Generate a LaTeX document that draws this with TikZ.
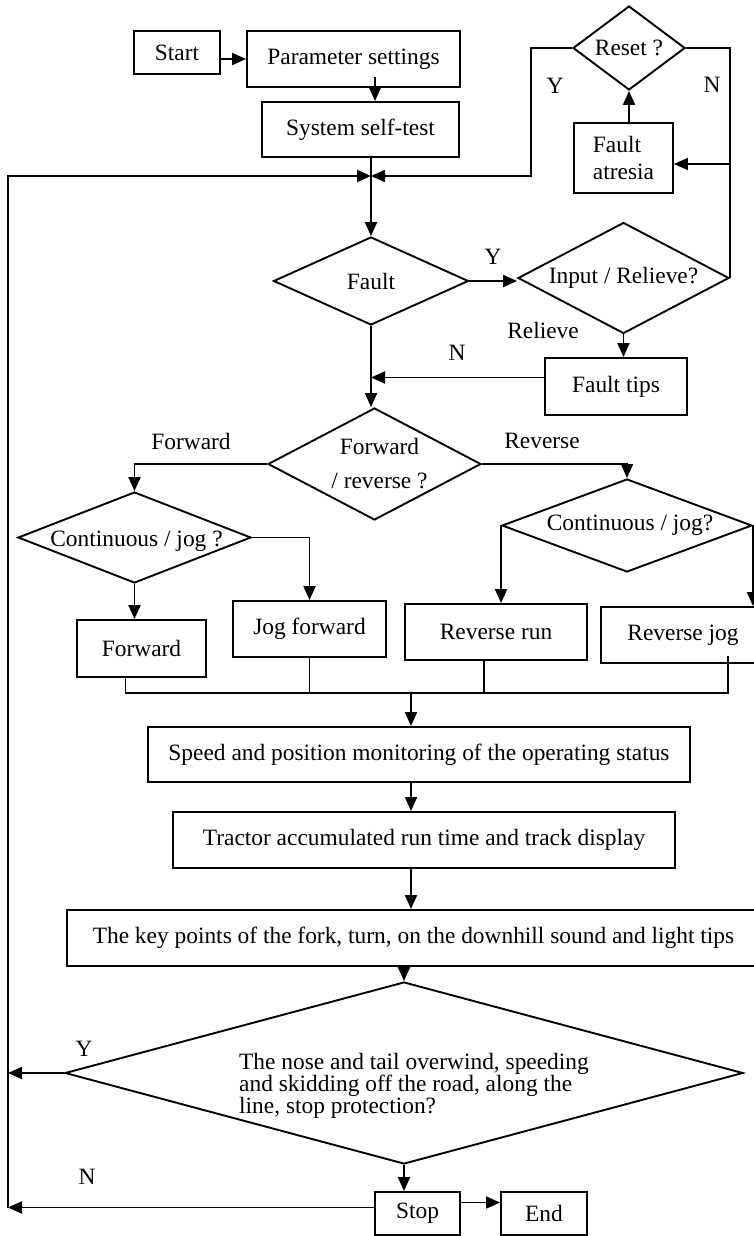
\documentclass[tikz,border=0pt]{standalone}
\usepackage{fontspec}
\setmainfont{Liberation Serif}
\usetikzlibrary{shapes.geometric,arrows.meta}

\begin{document}
\begin{tikzpicture}[x=1pt,y=-1pt,line width=1.9pt,
        font=\fontsize{23.4}{27}\selectfont,
        box/.style={draw,rectangle,inner sep=0pt},
        dia/.style={draw,diamond,inner sep=0pt},
        arr/.style={-{Triangle[length=14pt,width=12pt]}},
        lbl/.style={inner sep=0pt}]

        \useasboundingbox (0,0) rectangle (754,1236);
        \clip (0,0) rectangle (754,1236);

        %blocchi in alto
        \node[box,minimum width=86pt,minimum height=43pt] (start) at (177,52.5) {Start};
        \node[box,minimum width=213pt,minimum height=56pt] (param) at (353.5,59) {Parameter settings};
        \node[box,minimum width=197pt,minimum height=55pt] (selftest) at (360.5,129.5) {System self-test};
        \node[dia,minimum width=112pt,minimum height=84pt,label=center:{Reset ?}] (reset) at (629,48) {};
        \node[box,minimum width=99pt,minimum height=70pt,align=left] (atresia) at (623.5,158) {Fault\\atresia};

        %controllo guasti
        \node[dia,minimum width=195pt,minimum height=88pt,label=center:Fault] (fault) at (371,281) {};
        \node[dia,minimum width=211pt,minimum height=111pt,label=center:{Input / Relieve?}] (input) at (623.5,278) {};
        \node[box,minimum width=142pt,minimum height=57pt] (tips) at (616,386.5) {Fault tips};

        %avanti / indietro
        \node[dia,minimum width=213pt,minimum height=112pt,label={[align=center,xshift=5pt]center:{Forward\\[7pt]/ reverse ?}}] (fwdrev) at (374.5,464) {};
        \node[dia,minimum width=233pt,minimum height=91pt,label={[xshift=2pt,yshift=-4pt]center:{Continuous / jog ?}}] (contL) at (134.5,537.5) {};
        \node[dia,minimum width=250pt,minimum height=93pt,label={[xshift=3pt]center:{Continuous / jog?}}] (contR) at (627,525.5) {};
        \node[box,minimum width=129pt,minimum height=57pt] (fwd) at (141.5,648.5) {Forward};
        \node[box,minimum width=153pt,minimum height=56pt] (jogf) at (309.5,629) {Jog forward};
        \node[box,minimum width=182pt,minimum height=56pt] (revrun) at (496,632) {Reverse run};
        \node[box,minimum width=164pt,minimum height=56pt] (revjog) at (683,635) {Reverse jog};

        %monitoraggio
        \node[box,minimum width=542pt,minimum height=55pt] (speed) at (419,754.5) {Speed and position monitoring of the operating status};
        \node[box,minimum width=502pt,minimum height=56pt] (tractor) at (424,840) {Tractor accumulated run time and track display};
        \node[box,minimum width=693pt,minimum height=56pt] (keypts) at (413.5,938) {The key points of the fork, turn, on the downhill sound and light tips};
        \node[dia,minimum width=678pt,minimum height=182pt,
            label={[align=left,font={\fontsize{23.4}{22}\selectfont},xshift=10pt,yshift=-13pt]center:{The nose and tail overwind, speeding\\and skidding off the road, along the\\line, stop protection?}}] (prot) at (404,1073) {};
        \node[box,minimum width=85pt,minimum height=43pt] (stop) at (417.5,1213.5) {Stop};
        \node[box,minimum width=86pt,minimum height=43pt] (finish) at (544,1213.5) {End};

        %punti di snodo
        \coordinate (junc) at (371,176);
        \coordinate (loopL) at (8,176);
        \coordinate (yturn) at (531,176);
        \coordinate (bus) at (411,693);
        \coordinate (atr) at ([yshift=-6pt]atresia.east);
        \coordinate (tipsW) at ([yshift=9pt]tips.west);
        \coordinate (dF) at ([xshift=-16pt]fwd.south);
        \coordinate (dRR) at ([xshift=-12pt]revrun.south);
        \coordinate (dRJ) at ([xshift=45pt,yshift=8pt]revjog.south);
        \coordinate (stopE) at ([yshift=11pt]stop.east);
        \coordinate (stopW) at ([yshift=6pt]stop.west);

        %frecce
        \draw[arr] (start.east |- param.west) -- (param.west);
        \draw[arr] ([xshift=21.5pt,yshift=11pt]param.south) -- ([xshift=14.5pt]selftest.north);
        \draw[arr] (selftest.south -| fault.north) -- (fault.north);
        \draw[arr] (reset.west) -| (yturn) -- (junc);
        \draw (reset.east) -| (input.east);
        \draw[arr] (atr -| input.east) -- (atr);
        \draw[arr] (atresia.north -| reset.south) -- (reset.south);
        \draw[arr] (fault.east) -- (fault.east -| input.west);
        \draw[arr] (input.south) -- (input.south |- tips.north);
        \draw[arr] (tipsW) -- (tipsW -| fault.south);
        \draw[arr] (fault.south) -- (fault.south |- fwdrev.north);
        \draw[arr] (fwdrev.west) -| (contL.north);
        \draw[arr] (fwdrev.east) -| (contR.north);
        \draw[arr] (contL.south) -- (contL.south |- fwd.north);
        \draw[arr] (contL.east) -| (jogf.north);
        \draw[arr] (contR.west) -- (contR.west |- revrun.north);
        \draw[arr] (contR.east) -- (contR.east |- revjog.north);

        %raccolta uscite
        \draw (dF) |- (bus) -| (dRJ);
        \draw (jogf.south) -- (jogf.south |- bus);
        \draw (dRR) -- (dRR |- bus);
        \draw[arr] (bus) -- (bus |- speed.north);
        \draw[arr] (speed.south -| bus) -- (bus |- tractor.north);
        \draw[arr] (tractor.south -| bus) -- (bus |- keypts.north);
        \draw[arr] (keypts.south -| prot.north) -- (prot.north);
        \draw[arr] (prot.south) -- (prot.south |- stop.north);
        \draw[arr] (stopE) -- (stopE -| finish.west);

        %ritorno a sinistra
        \draw[arr] (prot.west) -- (prot.west -| loopL);
        \draw[arr] (stopW) -- (stopW -| loopL);
        \draw[arr] (stopW -| loopL) -- (loopL) -- (junc);

        %etichette
        \node[lbl] (yReset) at (555,86) {Y};
        \node[lbl] (nReset) at (712,85) {N};
        \node[lbl] (yFault) at (493,257) {Y};
        \node[lbl] (relieve) at (543,330) {Relieve};
        \node[lbl] (nFault) at (457,353) {N};
        \node[lbl] (lblFwd) at (191,441) {Forward};
        \node[lbl] (lblRev) at (542,441) {Reverse};
        \node[lbl] (yProt) at (84,1049) {Y};
        \node[lbl] (nProt) at (87,1177) {N};
\end{tikzpicture}
\end{document}
